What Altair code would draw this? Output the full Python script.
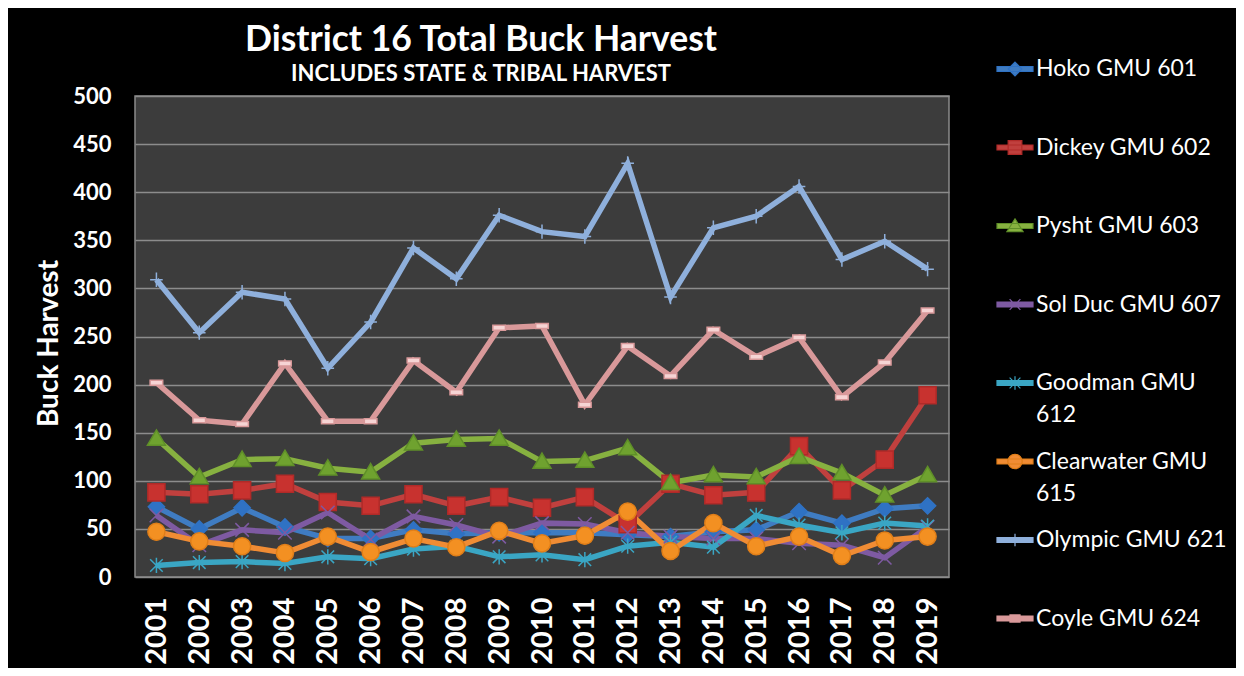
import altair as alt
import pandas as pd

years = list(range(2001, 2020))
series = ["Hoko GMU 601", "Dickey GMU 602", "Pysht GMU 603", "Sol Duc GMU 607",
          "Goodman GMU 612", "Clearwater GMU 615", "Olympic GMU 621", "Coyle GMU 624"]
hoko = [73, 50, 72, 52, 40, 40, 49, 45, 46, 46, 46, 44, 42, 47, 49, 68, 56, 71, 74]
dickey = [88, 86, 90, 97, 78, 74, 86, 74, 83, 72, 83, 55, 97, 85, 88, 136, 90, 122, 189]
pysht = [144, 104, 122, 123, 113, 109, 139, 143, 144, 120, 121, 134, 98, 106, 104, 125, 108, 85, 106]
solduc = [64, 33, 49, 46, 67, 39, 63, 54, 42, 56, 55, 46, 42, 40, 40, 35, 33, 20, 52]
goodman = [12, 15, 16, 14, 21, 19, 29, 32, 21, 23, 18, 32, 36, 31, 64, 54, 46, 56, 53]
clearwater = [47, 37, 32, 25, 42, 26, 40, 31, 48, 35, 43, 68, 27, 56, 32, 42, 22, 38, 42]
olympic = [309, 254, 296, 289, 217, 265, 342, 310, 376, 359, 354, 430, 291, 363, 375, 406, 330, 349, 320]
coyle = [202, 163, 159, 222, 162, 162, 225, 192, 259, 261, 179, 240, 209, 257, 229, 249, 187, 223, 277]
values = [hoko, dickey, pysht, solduc, goodman, clearwater, olympic, coyle]

line_colors = ["#3f7cc2", "#c0403e", "#87b140", "#7e5aa2", "#3aa6c4", "#f08c34", "#8fb0dc", "#d9999a"]
fill_colors = ["#2f72c4", "#c8322f", "#6fa22f", "#7e5aa2", "#3aa6c4", "#f39022", "#8fb0dc", "#f6d4d4"]
stroke_colors = ["#2f72c4", "#b02a28", "#5f8f28", "#7e5aa2", "#3aa6c4", "#e07e18", "#8fb0dc", "#d9999a"]
legend_stroke = ["#2f72c4", "#b02a28", "#5f8f28", "#7e5aa2", "#3aa6c4", "#e07e18", "#8fb0dc", "#d9999a"]

# marker shapes for data points (unit coordinates, size 324 -> r = 9px)
shapes = [
    "M0,-0.9L0.9,0L0,0.9L-0.9,0Z",
    "M-0.95,-0.95H0.95V0.95H-0.95Z",
    "M0,-0.95L1,0.75H-1Z",
    "M-0.75,-0.75L0.75,0.75M-0.75,0.75L0.75,-0.75",
    "M-0.7,-0.7L0.7,0.7M-0.7,0.7L0.7,-0.7M0,-0.85V0.85",
    "M0.95,0A0.95,0.95,0,1,1,-0.95,0A0.95,0.95,0,1,1,0.95,0",
    "M-0.7,0H0.7M0,-0.8V0.8",
    "M-0.7,-0.28H0.7V0.28H-0.7Z",
]
# legend symbols: short line segment with the marker on it (size 1296 -> r = 18px)
seg = "M-1,-0.14H1V0.14H-1Z"
legend_shapes = [
    seg + "M0,-0.38L0.38,0L0,0.38L-0.38,0Z",
    seg + "M-0.38,-0.38H0.38V0.38H-0.38Z",
    seg + "M0,-0.4L0.45,0.32H-0.45Z",
    seg + "M-0.3,-0.3L0.3,0.3M-0.3,0.3L0.3,-0.3",
    seg + "M-0.3,-0.3L0.3,0.3M-0.3,0.3L0.3,-0.3M0,-0.38V0.38",
    seg + "M0.4,0A0.4,0.4,0,1,1,-0.4,0A0.4,0.4,0,1,1,0.4,0",
    seg + "M0,-0.35V0.35",
    seg + "M-0.28,-0.2H0.28V0.2H-0.28Z",
]

rows = []
for s, vals in zip(series, values):
    for y, v in zip(years, vals):
        rows.append({"year": str(y), "series": s, "value": v})
df = pd.DataFrame(rows)

FONT = "Lato"
label_expr = ("datum.label == 'Goodman GMU 612' ? ['Goodman GMU', '612'] : "
              "datum.label == 'Clearwater GMU 615' ? ['Clearwater GMU', '615'] : datum.label")

x = alt.X("year:O", scale=alt.Scale(type="point", padding=0.5),
          axis=alt.Axis(title=None, labelAngle=-90, labelFontSize=29, labelFont=FONT,
                        labelFontWeight="bold", labelColor="white", labelPadding=20,
                        ticks=False, domain=False, grid=False))
y = alt.Y("value:Q", scale=alt.Scale(domain=[0, 500], nice=False),
          axis=alt.Axis(title="Buck Harvest", titleFontSize=28, titleFont=FONT,
                        titleFontWeight="bold", titleColor="white", titlePadding=9,
                        titleY=247,
                        values=list(range(0, 501, 50)), labelFontSize=22, labelFont=FONT,
                        labelFontWeight="bold", labelColor="white", labelPadding=24,
                        ticks=False, domain=False, grid=True, gridColor="#8c8c8c",
                        gridWidth=1.5))

lines = alt.Chart(df).mark_line(strokeWidth=5.5).encode(
    x=x, y=y,
    color=alt.Color("series:N", scale=alt.Scale(domain=series, range=line_colors), legend=None),
)

pts = alt.Chart(df).mark_point(filled=True, size=324, strokeWidth=1.5, opacity=1).encode(
    x=x, y=y,
    fill=alt.Fill("series:N", scale=alt.Scale(domain=series, range=fill_colors), legend=None),
    stroke=alt.Stroke("series:N", scale=alt.Scale(domain=series, range=stroke_colors), legend=None),
    shape=alt.Shape("series:N", scale=alt.Scale(domain=series, range=shapes), legend=None),
)

leg = dict(title=None, orient="none", legendX=861, legendY=-46, symbolSize=1296,
           symbolStrokeWidth=1.2, labelFont=FONT, labelFontSize=23, labelColor="white",
           labelOffset=2, rowPadding=15.5, gridAlign="all", labelExpr=label_expr,
           labelLimit=400, symbolOpacity=1)

legend_layer = alt.Chart(df).transform_filter("false").mark_point(
    filled=True, size=1296, strokeWidth=1.2).encode(
    x=x, y=y,
    color=alt.Color("series:N", scale=alt.Scale(domain=series, range=line_colors),
                    legend=alt.Legend(**leg)),
    stroke=alt.Stroke("series:N", scale=alt.Scale(domain=series, range=legend_stroke),
                      legend=alt.Legend(**leg)),
    shape=alt.Shape("series:N", scale=alt.Scale(domain=series, range=legend_shapes),
                    legend=alt.Legend(**leg)),
)

chart = alt.layer(lines, pts, legend_layer).resolve_scale(
    color="independent", fill="independent", stroke="independent", shape="independent"
).properties(
    width=814, height=481,
    autosize=alt.AutoSizeParams(type="none"),
    padding={"left": 127, "top": 88, "right": 287, "bottom": 91},
    background="black",
    title=alt.TitleParams(
        "District 16 Total Buck Harvest",
        subtitle="INCLUDES STATE & TRIBAL HARVEST",
        font=FONT, fontSize=35.5, fontWeight="bold", color="white",
        subtitleFont=FONT, subtitleFontSize=22, subtitleFontWeight="bold",
        subtitleColor="white", subtitlePadding=6, anchor="middle", frame="group",
        dx=-61, offset=-35),
).configure(
    style={"guide-label": {"lineHeight": 32}},
    view=alt.ViewConfig(fill="#3c3c3c", stroke="#8a8a8a", strokeWidth=1.5),
)

chart.save("out.html", embed_options={"renderer": "svg", "actions": False})
